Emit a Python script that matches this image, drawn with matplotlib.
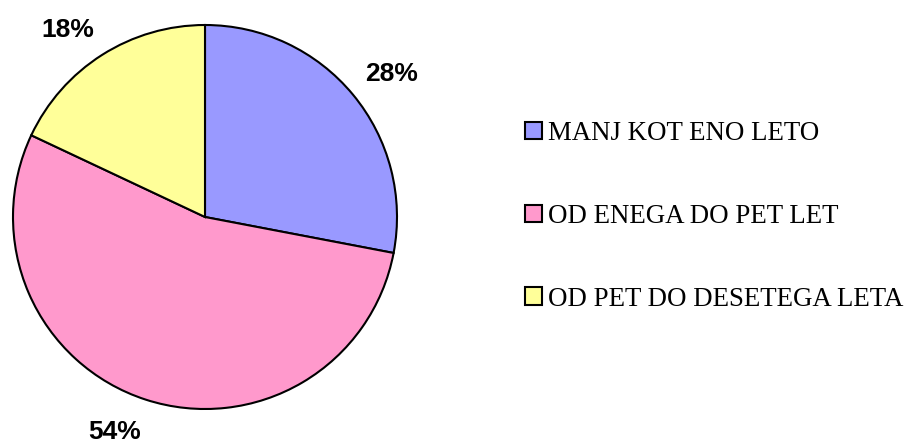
import numpy as np
import matplotlib.pyplot as plt

# share of respondents by length of ...
categories = ['MANJ KOT ENO LETO', 'OD ENEGA DO PET LET', 'OD PET DO DESETEGA LETA']
shares = [28, 54, 18]
colors = ['#9999FF', '#FF99CC', '#FFFF99']

fig = plt.figure(figsize=(9.1, 4.41), dpi=100)
ax = fig.add_axes([13 / 910, 32 / 441, 384 / 910, 384 / 441])

wedges, texts, pcts = ax.pie(
    shares, colors=colors, startangle=90, counterclock=False,
    autopct='%1.0f%%', pctdistance=1.22, radius=1,
    wedgeprops={'edgecolor': 'black', 'linewidth': 1.5},
    textprops={'fontsize': 19, 'fontweight': 'bold', 'family': 'Liberation Sans'},
)

# excel-like label placement: nearest corner of the label sits just outside the slice
for w, t in zip(wedges, pcts):
    mid = np.deg2rad((w.theta1 + w.theta2) / 2)
    c, s = np.cos(mid), np.sin(mid)
    t.set_position((1.08 * c, 1.11 * s))
    t.set_ha('left' if c > 0 else 'right')
    t.set_va('baseline' if s > 0 else 'top')

ax.set_xlim(-1, 1)
ax.set_ylim(-1, 1)
ax.set_aspect('equal')

leg = fig.legend(
    wedges, categories, loc='upper left', bbox_to_anchor=(525 / 910, 1 - 121 / 441),
    frameon=False, prop={'family': 'Liberation Serif', 'size': 19.4},
    handlelength=0.64, handleheight=0.64, handletextpad=0.22, labelspacing=2.15,
    borderaxespad=0, borderpad=0,
)

fig.savefig('out.png', dpi=100)
